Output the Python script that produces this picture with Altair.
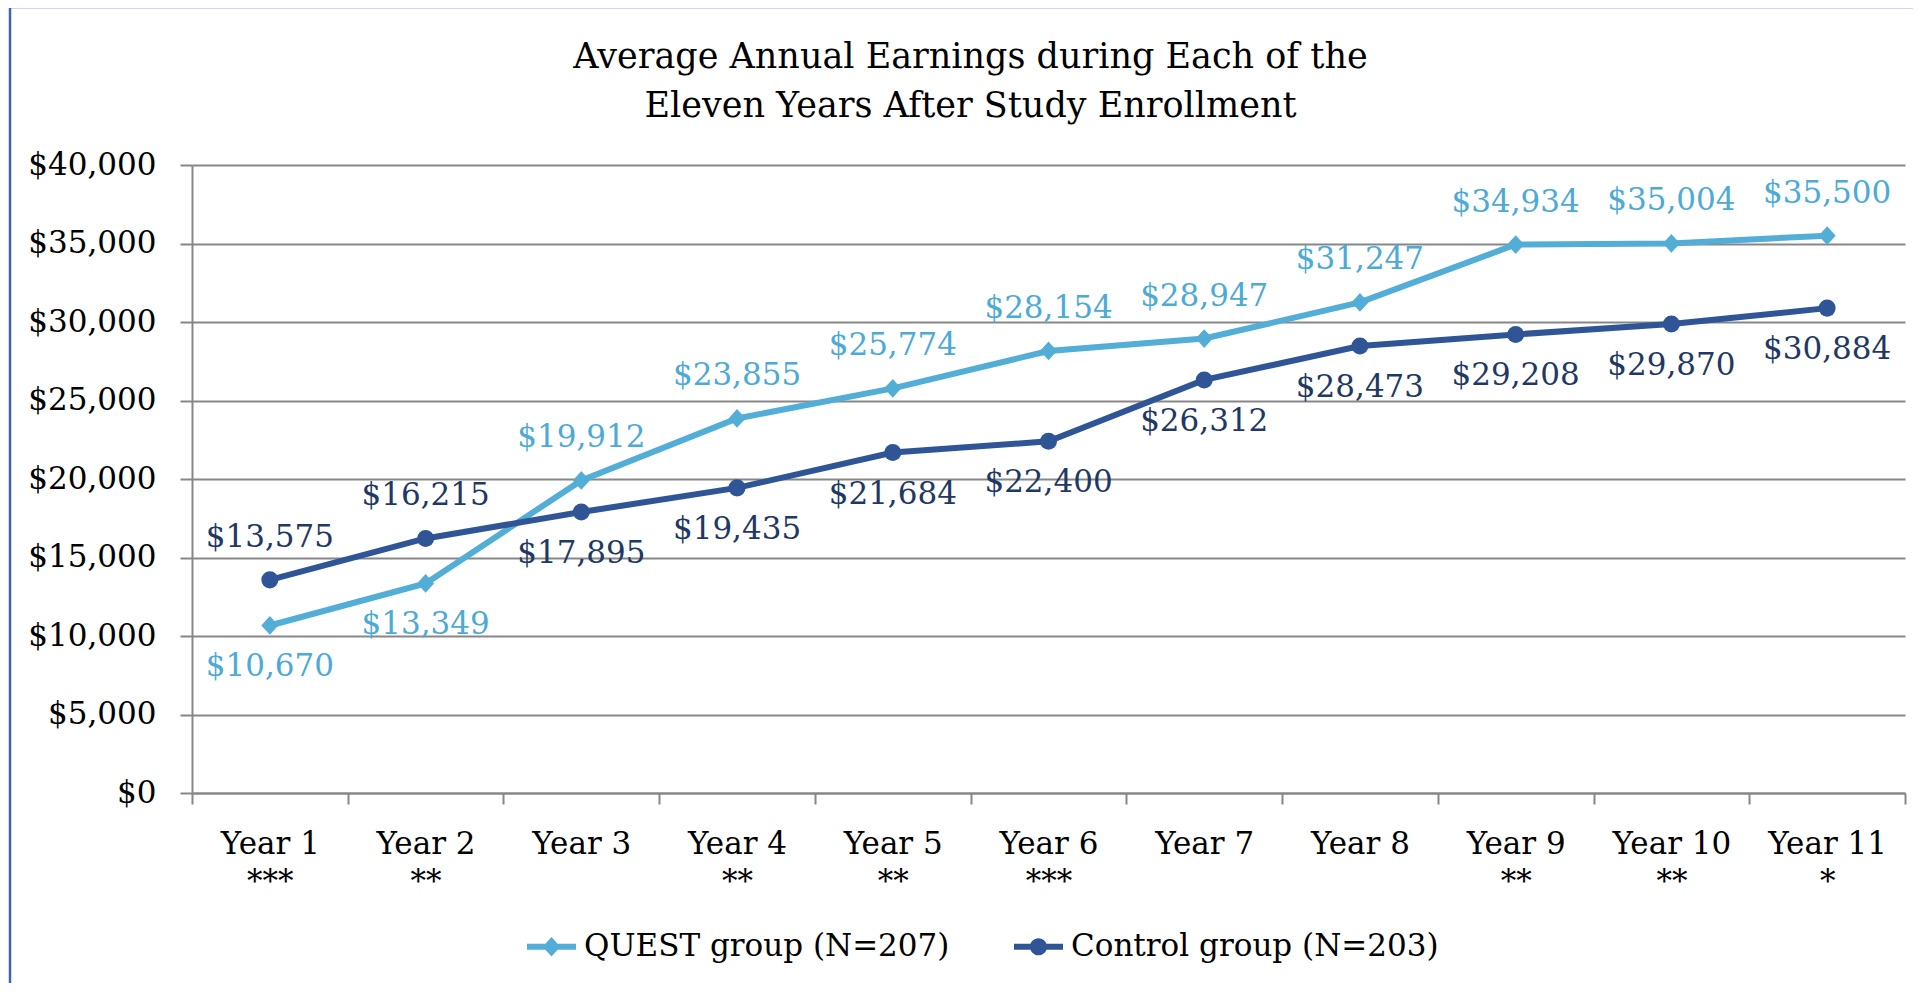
import json
import altair as alt
import pandas as pd

# ---- data ----
years = ["Year 1", "Year 2", "Year 3", "Year 4", "Year 5", "Year 6",
         "Year 7", "Year 8", "Year 9", "Year 10", "Year 11"]
stars = ["***", "**", "", "**", "**", "***", "", "", "**", "**", "*"]
quest = [10670, 13349, 19912, 23855, 25774, 28154, 28947, 31247, 34934, 35004, 35500]
control = [13575, 16215, 17895, 19435, 21684, 22400, 26312, 28473, 29208, 29870, 30884]
series_names = ["QUEST group (N=207)", "Control group (N=203)"]
y_ticks = [0, 5000, 10000, 15000, 20000, 25000, 30000, 35000, 40000]
title_lines = ["Average Annual Earnings during Each of the",
               "Eleven Years After Study Enrollment"]

# ---- styles ----
line_colors = ["#52ADD7", "#2F5597"]
label_colors = ["#4DAAD6", "#1F3864"]
marker_shapes = ["M0,-1.1L1,0L0,1.1L-1,0Z", "circle"]
legend_shapes = [
    "M-1,-0.12L1,-0.12L1,0.12L-1,0.12Z M0,-0.4L0.36,0L0,0.4L-0.36,0Z",
    "M-1,-0.12L1,-0.12L1,0.12L-1,0.12Z M-0.35,0A0.35,0.35 0 1,1 0.35,0A0.35,0.35 0 1,1 -0.35,0Z",
]
FONT = "DejaVu Serif"
GRAY = "#878787"

rows = []
for i, yr in enumerate(years):
    rows.append({"year": yr, "series": series_names[0], "value": quest[i]})
    rows.append({"year": yr, "series": series_names[1], "value": control[i]})
df = pd.DataFrame(rows)

label_expr = "[datum.value, {stars}[indexof({years}, datum.value)]]".format(
    stars=json.dumps(stars), years=json.dumps(years))

x_enc = alt.X(
    "year:N",
    scale=alt.Scale(type="band", domain=years, paddingInner=0, paddingOuter=0),
    axis=alt.Axis(title=None, labelExpr=label_expr, labelFont=FONT, labelFontSize=31,
                  labelColor="black", labelAngle=0, labelLineHeight=38,
                  labelBaseline="top", labelPadding=25, domainColor=GRAY, domainWidth=2,
                  tickColor=GRAY, tickWidth=2, tickSize=11, tickBand="extent",
                  grid=False),
)
y_enc = alt.Y(
    "value:Q",
    scale=alt.Scale(domain=[0, 40000], nice=False),
    axis=alt.Axis(title=None, values=y_ticks, format="$,.0f", labelFont=FONT,
                  labelFontSize=31, labelColor="black", labelPadding=24, tickSize=12,
                  tickColor=GRAY, tickWidth=2, domainColor=GRAY, domainWidth=2,
                  gridColor=GRAY, gridWidth=2),
)

line_color = alt.Color("series:N", scale=alt.Scale(domain=series_names, range=line_colors),
                       legend=None)

base = alt.Chart(df)

lines = base.mark_line(strokeWidth=6).encode(x=x_enc, y=y_enc, color=line_color,
                                             detail="series:N")
points = base.mark_point(filled=True, opacity=1, size=290).encode(
    x=x_enc, y=y_enc, color=line_color,
    shape=alt.Shape("series:N", scale=alt.Scale(domain=series_names, range=marker_shapes),
                    legend=None),
)

legend_def = alt.Legend(title=None, orient="none", legendX=335, legendY=757,
                        direction="horizontal", labelFont=FONT, labelFontSize=31,
                        labelColor="black", labelLimit=1000, symbolSize=2400,
                        symbolStrokeWidth=0, labelOffset=8, columnPadding=64, padding=0)
legend_layer = base.mark_point(filled=True, opacity=1).encode(
    x=x_enc, y=y_enc,
    color=alt.Color("series:N", scale=alt.Scale(domain=series_names, range=line_colors),
                    legend=legend_def),
    shape=alt.Shape("series:N", scale=alt.Scale(domain=series_names, range=legend_shapes),
                    legend=legend_def),
).transform_filter("false")

label_color = alt.Color("series:N", scale=alt.Scale(domain=series_names, range=label_colors),
                        legend=None)
labels_base = base.transform_joinaggregate(maxv="max(value)", groupby=["year"])
text_above = labels_base.transform_filter("datum.value == datum.maxv").mark_text(
    font=FONT, fontSize=31, dy=-42, baseline="middle", align="center").encode(
    x=x_enc, y=y_enc, color=label_color, text=alt.Text("value:Q", format="$,.0f"))
text_below = labels_base.transform_filter("datum.value < datum.maxv").mark_text(
    font=FONT, fontSize=31, dy=42, baseline="middle", align="center").encode(
    x=x_enc, y=y_enc, color=label_color, text=alt.Text("value:Q", format="$,.0f"))

frame_data = pd.DataFrame({"k": [0]})
border_v = alt.Chart(frame_data).mark_rule(color="#3C64AE", strokeWidth=2.5).encode(
    x=alt.value(-182), y=alt.value(-158), y2=alt.value(820))
border_h = alt.Chart(frame_data).mark_rule(color="#3C64AE", strokeWidth=2.5).encode(
    x=alt.value(-182), x2=alt.value(1721), y=alt.value(-158))

chart = alt.layer(
    border_v, border_h, lines, points, legend_layer, text_above, text_below
).resolve_scale(color="independent", shape="independent").properties(
    width=1713, height=628,
    padding={"left": 184, "top": 157, "right": 8, "bottom": 190},
    autosize=alt.AutoSizeParams(type="none"),
    title=alt.TitleParams(text=title_lines, font=FONT, fontSize=35, fontWeight="normal",
                          color="black", anchor="middle", frame="group", dx=-78,
                          offset=-118, lineHeight=49),
    background="white",
).configure_view(stroke=None)

chart.save("out.html", embed_options={"renderer": "svg", "actions": False})
